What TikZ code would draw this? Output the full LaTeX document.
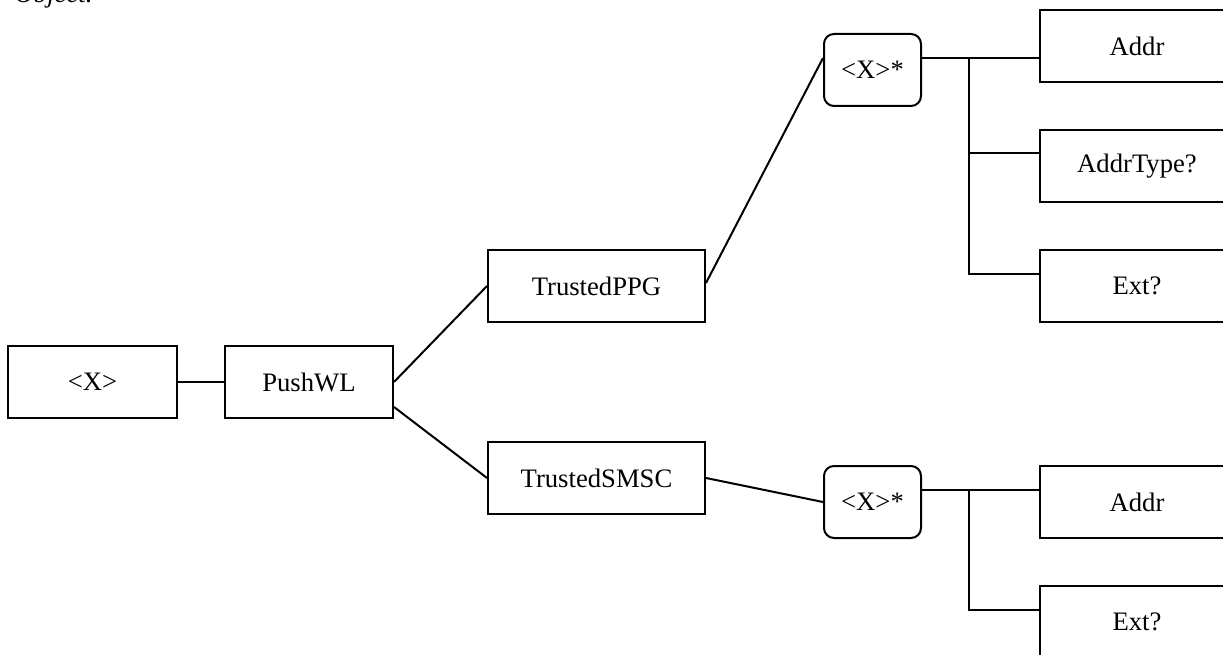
\documentclass[tikz,border=0pt]{standalone}
\usepackage{fontspec}
\setmainfont{Liberation Serif}
\usetikzlibrary{calc}
\begin{document}
\begin{tikzpicture}[x=0.75pt,y=-0.75pt,
  every node/.style={font=\fontsize{20}{24}\selectfont},
  box/.style={draw, line width=1.5pt, minimum height=54pt, inner sep=0pt},
  rbox/.style={box, rounded corners=7.5pt, minimum width=72.75pt},
  wire/.style={line width=1.5pt}]
\clip (0,0) rectangle (1223,655);

% caption line running off the top edge
\node[anchor=base west, font=\fontsize{20}{24}\selectfont\itshape] (cap) at (10,3) {Object.};

% tree nodes
\node[box, minimum width=126.75pt] (root) at (92.5,382) {<X>};
\node[box, minimum width=126pt] (pwl) at (309,382) {PushWL};
\node[box, minimum width=162.75pt] (ppg) at (596.5,286) {TrustedPPG};
\node[box, minimum width=162.75pt] (smsc) at (596.5,478) {TrustedSMSC};
\node[rbox] (xs1) at (872.5,70) {<X>*};
\node[rbox] (xs2) at (872.5,502) {<X>*};
\node[box, minimum width=145.5pt] (addr1) at (1137,46) {Addr};
\node[box, minimum width=145.5pt] (atype) at (1137,166) {AddrType?};
\node[box, minimum width=145.5pt] (ext1) at (1137,286) {Ext?};
\node[box, minimum width=145.5pt] (addr2) at (1137,502) {Addr};
\node[box, minimum width=145.5pt] (ext2) at (1137,622) {Ext?};

% first level
\draw[wire] (root.east) -- (pwl.west);
\draw[wire] (pwl.east) -- (ppg.west);
\draw[wire] ($(pwl.east)+(0,25)$) -- (smsc.west);
\draw[wire] ($(ppg.east)+(0,-3)$) -- ($(xs1.west)+(0,-12)$);
\draw[wire] (smsc.east) -- (xs2.west);

% upper bus
\coordinate (bus1) at (969,0);
\coordinate (t1) at ($(addr1.west)+(0,12)$);
\coordinate (t2) at ($(atype.west)+(0,-13)$);
\coordinate (t3) at ($(ext1.west)+(0,-12)$);
\draw[wire] ($(xs1.east)+(0,-12)$) -- (t1);
\draw[wire] (t1 -| bus1) -- (t3 -| bus1) -- (t3);
\draw[wire] (t2 -| bus1) -- (t2);

% lower bus
\coordinate (bus2) at (969,0);
\coordinate (u1) at ($(addr2.west)+(0,-12)$);
\coordinate (u2) at ($(ext2.west)+(0,-12)$);
\draw[wire] ($(xs2.east)+(0,-12)$) -- (u1);
\draw[wire] (u1 -| bus2) -- (u2 -| bus2) -- (u2);
\end{tikzpicture}
\end{document}
